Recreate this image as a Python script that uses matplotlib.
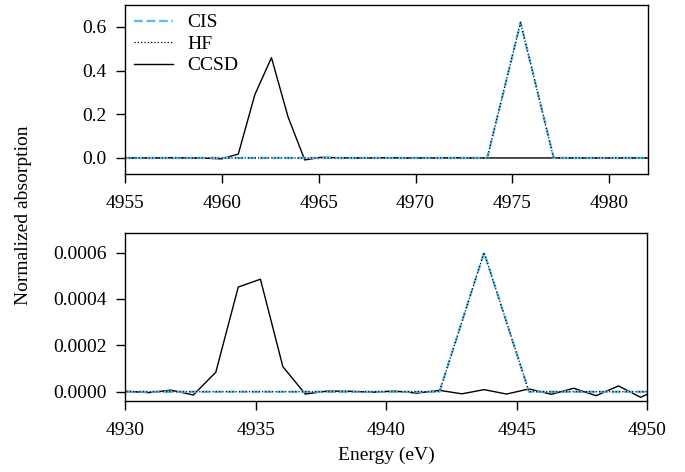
import matplotlib
matplotlib.use("Agg")
import matplotlib.pyplot as plt

# K-edge region (upper panel)
e_top = [4954.85, 4955.71, 4956.56, 4957.42, 4958.28, 4959.13, 4959.99,
         4960.85, 4961.70, 4962.56, 4963.42, 4964.28, 4965.13, 4965.99,
         4966.85, 4967.70, 4968.56, 4969.42, 4970.27, 4971.13, 4971.99,
         4972.85, 4973.70, 4974.56, 4975.42, 4976.27, 4977.13, 4977.99,
         4978.85, 4979.70, 4980.56, 4981.42, 4982.27]
ccsd_top = [0.0, 0.0, 0.0, 0.001, 0.0, -0.001, -0.004,
            0.018, 0.289, 0.459, 0.187, -0.009, 0.003, 0.001,
            0.0, 0.0, 0.001, 0.0, 0.0, 0.0, 0.001,
            0.0, 0.0, 0.0, 0.0, 0.0, 0.0, 0.0,
            0.0, 0.0, 0.0, 0.0, 0.0]
e_top_coarse = e_top[::2]
cis_top = [0.0, 0.0, 0.0, 0.0, 0.0, 0.0, 0.0, 0.0, 0.0,
           0.0, 0.0, 0.0, 0.62, 0.0, 0.0, 0.0, 0.0]
hf_top = [0.0, 0.0, 0.0, 0.0, 0.0, 0.0, 0.0, 0.0, 0.0,
          0.0, 0.0, 0.0, 0.62, 0.0, 0.0, 0.0, 0.0]

# pre-edge region (lower panel)
e_bot = [4929.17, 4930.03, 4930.89, 4931.74, 4932.60, 4933.46, 4934.32,
         4935.17, 4936.03, 4936.89, 4937.74, 4938.60, 4939.46, 4940.31,
         4941.17, 4942.03, 4942.89, 4943.74, 4944.60, 4945.46, 4946.32,
         4947.17, 4948.03, 4948.89, 4949.74, 4950.60]
ccsd_bot = [0.000001, 0.000002, -0.000004, 0.000007, -0.000014, 0.000084,
            0.000451, 0.000485, 0.000108, -0.000010, 0.000003, 0.000002,
            -0.000002, 0.000003, -0.000006, 0.000006, -0.000009, 0.000009,
            -0.000010, 0.000012, -0.000011, 0.000015, -0.000017, 0.000025,
            -0.000024, 0.000020]
e_bot_coarse = e_bot[1::2]
cis_bot = [0.0, 0.0, 0.0, 0.0, 0.0, 0.0, 0.0,
           0.0, 0.0006, 0.0, 0.0, 0.0, 0.0]
hf_bot = [0.0, 0.0, 0.0, 0.0, 0.0, 0.0, 0.0,
          0.0, 0.0006, 0.0, 0.0, 0.0, 0.0]

plt.rcParams['font.family'] = ['Liberation Serif', 'DejaVu Serif']
plt.rcParams['font.size'] = 14
plt.rcParams['axes.linewidth'] = 1.0

cis_color = '#5bbfec'

fig = plt.figure(figsize=(6.85, 4.72), dpi=100)
ax1 = fig.add_axes([0.1825, 0.6314, 0.7635, 0.358])
ax2 = fig.add_axes([0.1832, 0.1504, 0.762, 0.3559])

for ax, ec, cis, hf, e, cc in [(ax1, e_top_coarse, cis_top, hf_top, e_top, ccsd_top),
                               (ax2, e_bot_coarse, cis_bot, hf_bot, e_bot, ccsd_bot)]:
    # CCSD sits underneath the CIS/HF traces
    ax.plot(ec, cis, '--', color=cis_color, lw=1.7, label='CIS', zorder=2.2)
    ax.plot(ec, hf, ':', color='black', lw=0.9, label='HF', zorder=2.4)
    ax.plot(e, cc, '-', color='black', lw=1.0, label='CCSD', zorder=2.0)
    ax.tick_params(axis='x', direction='out', length=6.5, width=1.0,
                   top=False, pad=8.5)
    ax.tick_params(axis='y', direction='out', length=6.5, width=1.0,
                   right=False, pad=7)

ax1.set_xlim(4955, 4982)
ax1.set_ylim(-0.0733, 0.70)
ax1.set_xticks([4955, 4960, 4965, 4970, 4975, 4980])
ax1.set_yticks([0.0, 0.2, 0.4, 0.6])

ax2.set_xlim(4930, 4950)
ax2.set_ylim(-0.00004, 0.000684)
ax2.set_xticks([4930, 4935, 4940, 4945, 4950])
ax2.set_yticks([0.0, 0.0002, 0.0004, 0.0006])
ax2.set_xlabel('Energy (eV)', labelpad=6)

ax1.legend(loc='upper left', frameon=False, borderaxespad=0.05,
           labelspacing=0.2, handlelength=2.0, handletextpad=0.75)

fig.text(0.034, 0.545, 'Normalized absorption', rotation=90,
         ha='center', va='center')

fig.savefig('out.png', dpi=100)
